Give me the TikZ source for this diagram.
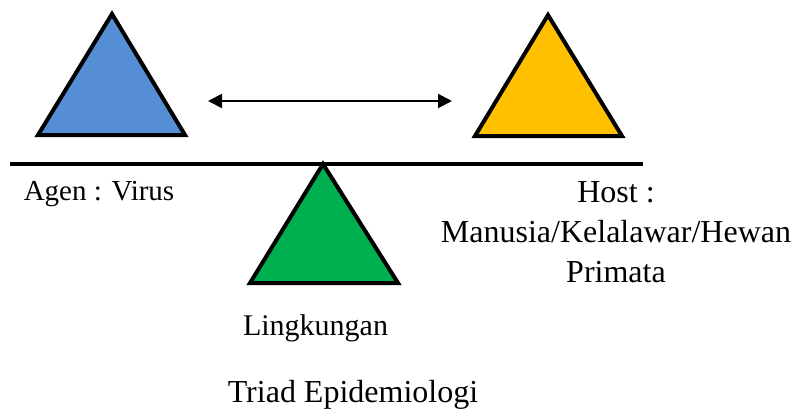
\documentclass[tikz,border=0pt]{standalone}
\usepackage{fontspec}
\setmainfont{Liberation Serif}
\usetikzlibrary{arrows.meta}
\definecolor{agenblue}{HTML}{558ED5}
\definecolor{hostyellow}{HTML}{FFC000}
\definecolor{envgreen}{HTML}{00B050}
\begin{document}
\begin{tikzpicture}[x=1pt,y=-1pt,
  tri/.style={draw=black,line width=4pt,line join=miter},
  lbl/.style={font=\fontsize{29}{34}\selectfont,inner sep=0pt,align=center},
  hostlbl/.style={lbl,font=\fontsize{32}{34}\selectfont}]
\useasboundingbox (0,0) rectangle (795,410);
% triangles
\coordinate (aA) at (112,14); \coordinate (aL) at (38,135); \coordinate (aR) at (185,135);
\filldraw[tri,fill=agenblue] (aA) -- (aL) -- (aR) -- cycle;
\coordinate (hA) at (548,15); \coordinate (hL) at (475,136); \coordinate (hR) at (622,136);
\filldraw[tri,fill=hostyellow] (hA) -- (hL) -- (hR) -- cycle;
% beam
\coordinate (b1) at (10,164); \coordinate (b2) at (643,164);
\draw[line width=3.5pt] (b1) -- (b2);
\coordinate (gA) at (323,164); \coordinate (gL) at (250,283); \coordinate (gR) at (398,283);
\filldraw[tri,fill=envgreen] (gA) -- (gL) -- (gR) -- cycle;
% arrow
\coordinate (arL) at (208,101); \coordinate (arR) at (452,101);
\draw[line width=2pt,{Triangle[length=14pt,width=14pt]}-{Triangle[length=14pt,width=14pt]}] (arL) -- (arR);
% labels
\node[lbl,anchor=base] (agen) at (99,200) {Agen : Virus};
\node[hostlbl,anchor=base] (host) at (616,202) {Host :};
\node[hostlbl,anchor=base] (hostb) at (616,242) {Manusia/Kelalawar/Hewan};
\node[hostlbl,anchor=base] (hostc) at (616,282) {Primata};
\node[lbl,font=\fontsize{30}{34}\selectfont,anchor=base] (ling) at (315.5,335) {Lingkungan};
\node[lbl,font=\fontsize{32}{34}\selectfont,anchor=base] (triad) at (353,402) {Triad Epidemiologi};
\end{tikzpicture}
\end{document}
